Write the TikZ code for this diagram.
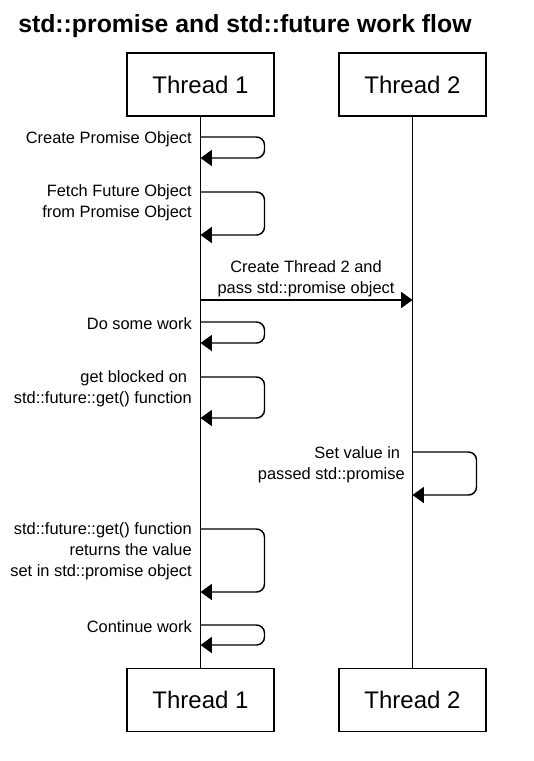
\documentclass[tikz,border=0pt]{standalone}
\usepackage{fontspec}
\setmainfont{Liberation Sans}
\usetikzlibrary{arrows.meta}
\begin{document}
\begin{tikzpicture}[x=0.75pt,y=-0.75pt,
  every node/.style={inner sep=0pt},
  thread/.style={draw, line width=1.1pt, minimum width=110.25pt, minimum height=47.25pt, font=\fontsize{18}{21}\selectfont},
  lbl/.style={font=\fontsize{12.3}{15.75}\selectfont, align=right, anchor=east},
  life/.style={line width=1.1pt},
  msg/.style={line width=1.1pt, -{Triangle[length=8.5pt,width=12pt]}, rounded corners=6pt},
  ttl/.style={font=\bfseries\fontsize{18.6}{22}\selectfont, anchor=base west}
]
\useasboundingbox (0,0) rectangle (534,761);
\node[ttl] (title) at (18,32) {std::promise and std::future work flow};
\node[thread] (t1top) at (200.5,84.5) {Thread 1};
\node[thread] (t2top) at (412.5,84.5) {Thread 2};
\node[thread] (t1bot) at (200.5,700) {Thread 1};
\node[thread] (t2bot) at (412.5,700) {Thread 2};
\draw[life] (t1top) -- (t1bot);
\draw[life] (t2top) -- (t2bot);

% self messages on thread 1
\coordinate (a1) at (200.5,137); \coordinate (b1) at (200.5,158);
\coordinate (a2) at (200.5,192); \coordinate (b2) at (200.5,235);
\coordinate (a4) at (200.5,322); \coordinate (b4) at (200.5,343);
\coordinate (a5) at (200.5,377); \coordinate (b5) at (200.5,418);
\coordinate (a7) at (200.5,529); \coordinate (b7) at (200.5,592);
\coordinate (a8) at (200.5,625); \coordinate (b8) at (200.5,645);
% thread 2
\coordinate (a6) at (412.5,452); \coordinate (b6) at (412.5,495);
% cross message
\coordinate (s3) at (200.5,300); \coordinate (e3) at (412.5,300);

\draw[msg] (a1) -- ++(64,0) |- (b1);
\draw[msg] (a2) -- ++(64,0) |- (b2);
\draw[msg] (s3) -- (e3);
\draw[msg] (a4) -- ++(64,0) |- (b4);
\draw[msg] (a5) -- ++(64,0) |- (b5);
\draw[msg] (a6) -- ++(64,0) |- (b6);
\draw[msg] (a7) -- ++(64,0) |- (b7);
\draw[msg] (a8) -- ++(64,0) |- (b8);

\node[lbl] (l1) at (192,139) {Create Promise Object};
\node[lbl] (l2) at (192,202.5) {Fetch Future Object\\from Promise Object};
\node[lbl, align=center, anchor=center] (l3) at (306,279) {Create Thread 2 and\\pass std::promise object};
\node[lbl] (l4) at (192,324) {Do some work};
\node[lbl] (l5) at (192,388.5) {get blocked on\hspace*{0.28em}\\std::future::get() function};
\node[lbl] (l6) at (405,464.5) {Set value in\hspace*{0.28em}\\passed std::promise};
\node[lbl] (l7) at (192,551) {std::future::get() function\\returns the value\hspace*{0.28em}\\set in std::promise object};
\node[lbl] (l8) at (192,627) {Continue work};
\end{tikzpicture}
\end{document}
